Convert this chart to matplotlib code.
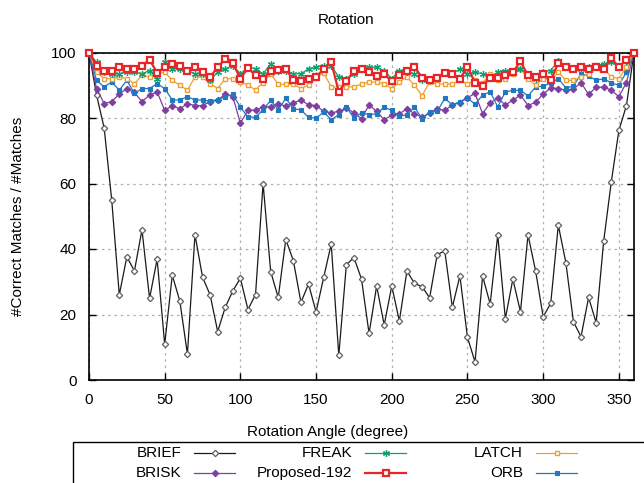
import matplotlib
matplotlib.use("Agg")
import matplotlib.pyplot as plt
import numpy as np
from matplotlib.lines import Line2D
from matplotlib.patches import Rectangle

plt.rcParams["font.family"] = ["Liberation Sans", "DejaVu Sans"]

# rotation angles, 0..360 step 5
angles = list(range(0, 361, 5))

brief = [100, 87, 77, 55, 26, 37.6, 33.3, 45.9, 24.9, 36.9, 10.9, 32, 24.1, 7.9,
         44.4, 31.4, 26, 14.8, 22.2, 27.2, 31.1, 21.5, 26.1, 60, 33.1, 25.2, 42.9,
         36.4, 23.7, 29.3, 20.8, 31.3, 41.5, 7.5, 35.2, 37.4, 30.8, 14.2, 28.7,
         16.8, 28.7, 18, 33.3, 29.5, 28.5, 25.1, 38.3, 39.4, 22.2, 31.8, 13, 5.5,
         31.7, 23.2, 44.3, 18.7, 30.8, 20.8, 44.3, 33.3, 19.3, 23.4, 47.3, 35.8,
         17.8, 13.2, 25.2, 17.5, 42.5, 60.5, 76.2, 83.8, 100]

brisk = [100, 89, 84.4, 85, 87.3, 89, 87.8, 85, 87, 88, 82.3, 83.8, 82.8, 84.4,
         83.8, 83.8, 85, 85.4, 87.3, 86.5, 78.4, 82.4, 82.4, 83.4, 83.5, 84.4,
         83.6, 84.6, 85.5, 84, 83.8, 82, 81.6, 82, 83, 81.6, 79.8, 84, 82, 79.5,
         80.8, 81.3, 82.8, 81.3, 80.3, 81.5, 82.8, 82.3, 84, 84.7, 86.2, 87.5,
         81.3, 84.7, 86, 84, 85.4, 87, 83.8, 84.8, 87.3, 89.2, 89, 88.5, 88.8,
         90.8, 87.2, 89.4, 89.4, 88.5, 86.5, 90.8, 100]

orb = [100, 91.5, 89.5, 91, 88.5, 91.5, 87.5, 89, 89, 90.5, 89, 85.5, 85.5, 86.5,
       85.5, 85.5, 85.2, 85.6, 86.5, 87.2, 83.3, 80.3, 80.2, 82.5, 85.4, 82.5,
       86, 82.8, 82.5, 80.2, 79.9, 81.8, 79.5, 81, 83.3, 80, 81.6, 81, 81.3,
       83.3, 82.3, 80.5, 81, 83.3, 79.8, 81.8, 82, 86, 84, 85, 86.1, 84.2, 87,
       88, 83.4, 88, 88.4, 88.5, 86.7, 89.5, 89.7, 90.7, 92, 89.2, 89.7, 93.5,
       92.8, 91.5, 92, 90.7, 90, 94, 100]

latch = [100, 94, 92, 92, 92.5, 92, 90.5, 93, 92.5, 93.5, 94, 91.5, 90, 88.5,
         92.5, 92.5, 90.5, 89, 92, 92, 91, 90, 88.6, 90.8, 93.5, 90.3, 90.3,
         90.3, 89, 90, 92.3, 93.8, 89.5, 89.5, 89.5, 89.5, 90.4, 91, 91, 90.4,
         89, 91, 92.5, 90, 86.8, 91, 90.4, 90.4, 90.4, 91.5, 90.4, 91.5, 90.7,
         93.5, 91.5, 92, 93.5, 95, 92, 90, 92, 91.5, 94, 91.5, 91.5, 92.5, 93.5,
         96.3, 95, 92.6, 92, 95.5, 100]

freak = [100, 97, 94, 93.5, 93.5, 94, 94, 93.5, 94.5, 92, 97, 95, 95, 94.5,
         93.5, 93.5, 91.5, 94, 95, 96, 93.5, 95.5, 95, 93.5, 96.5, 94.5, 94.5,
         93.5, 93.5, 95, 95.5, 96, 96, 92.5, 92, 93.5, 95, 95.5, 95.5, 94.5, 92,
         94.5, 94, 93.5, 91.5, 92, 92.5, 94, 93.5, 95, 93.5, 94, 93.5, 92.5, 94,
         94.5, 94.5, 95, 93.5, 92, 94, 94.5, 97.5, 95.5, 95, 95, 95.5, 96, 96.5,
         97, 96, 97.5, 100]

proposed = [100, 96, 94.5, 94.3, 95.5, 95, 95, 96, 97.8, 93.8, 95.5, 96.5, 96,
            94.5, 95.5, 94, 92.5, 95.5, 98, 96.8, 92, 95.3, 93, 91.8, 94.3, 94.7,
            95, 91.5, 91.3, 91.8, 92.5, 95, 97, 88, 91.3, 94.3, 95, 94, 92.8,
            93.3, 91.3, 93, 94.5, 95.6, 92.3, 91.5, 92.3, 93.8, 93.5, 92, 95.6,
            90.8, 89.8, 92.3, 92.3, 93, 94, 97.3, 93, 92.5, 93.3, 91.5, 96.8,
            95.5, 95, 95.5, 95, 95.5, 95, 98.2, 95.6, 97.8, 100]

series = {
    "BRIEF": dict(y=brief, color="#1a1a1a", marker="D", ms=3.2, mfc="white",
                  mec="#606060", lw=0.9, mew=0.9),
    "BRISK": dict(y=brisk, color="#7e3f9e", marker="D", ms=3.3, mfc="#7e3f9e",
                  mec="#7e3f9e", lw=0.9, mew=0.8),
    "ORB": dict(y=orb, color="#1f78c1", marker="s", ms=3.3, mfc="#1f78c1",
                mec="#1f78c1", lw=0.9, mew=0.8),
    "LATCH": dict(y=latch, color="#eda032", marker="s", ms=3.3, mfc="white",
                  mec="#eda032", lw=0.9, mew=1.0),
    "FREAK": dict(y=freak, color="#10a070", marker=(6, 2, 0), ms=5,
                  mfc="#10a070", mec="#10a070", lw=0.9, mew=0.9),
    "Proposed-192": dict(y=proposed, color="#e8262a", marker="s", ms=4.7,
                         mfc="white", mec="#e8262a", lw=1.6, mew=1.6),
}

fig = plt.figure(figsize=(6.44, 4.83), dpi=100)
W, H = 644, 483
ax = fig.add_axes([89 / W, 1 - 380 / H, (634 - 89) / W, (380 - 52.5) / H])

for name, s in series.items():
    ax.plot(angles, s["y"], color=s["color"], lw=s["lw"], marker=s["marker"],
            ms=s["ms"], mfc=s["mfc"], mec=s["mec"], mew=s["mew"], clip_on=False,
            zorder=3)

ax.set_xlim(0, 360)
ax.set_ylim(0, 100)
ax.set_xticks(np.arange(0, 351, 50))
ax.set_yticks(np.arange(0, 101, 20))
ax.grid(True, color="#b0b0b0", linestyle=(0, (2, 3)), linewidth=0.9)
ax.tick_params(direction="in", top=True, right=True, labelsize=11, length=5,
               width=1.0, pad=9)
for sp in ax.spines.values():
    sp.set_linewidth(1.2)

fig.text(346 / W, 1 - 20 / H, "Rotation", ha="center", va="center", fontsize=11)
fig.text(328 / W, 1 - 432 / H, "Rotation Angle (degree)", ha="center",
         va="center", fontsize=11)
fig.text(18 / W, 1 - 216 / H, "#Correct Matches / #Matches", ha="center",
         va="center", rotation=90, fontsize=11)

# legend box (gnuplot style, below the plot)
fig.add_artist(Rectangle((73 / W, -0.1), 1.0, (1 - 442 / H) + 0.1,
                         transform=fig.transFigure, fill=False, lw=1.0,
                         ec="black", clip_on=False))
legend_layout = [
    ("BRIEF", 181, 453), ("BRISK", 181, 473),
    ("FREAK", 352, 453), ("Proposed-192", 352, 473),
    ("LATCH", 523, 453), ("ORB", 523, 473),
]
for name, xr, yy in legend_layout:
    s = series[name]
    fy = 1 - yy / H
    fig.text(xr / W, fy, name, ha="right", va="center", fontsize=11)
    x0, x1 = (xr + 13) / W, (xr + 54) / W
    fig.add_artist(Line2D([x0, (x0 + x1) / 2, x1], [fy, fy, fy],
                          transform=fig.transFigure, color=s["color"],
                          lw=s["lw"], marker=s["marker"], markevery=[1],
                          ms=s["ms"], mfc=s["mfc"], mec=s["mec"], mew=s["mew"]))

fig.savefig("out.png", dpi=100)
